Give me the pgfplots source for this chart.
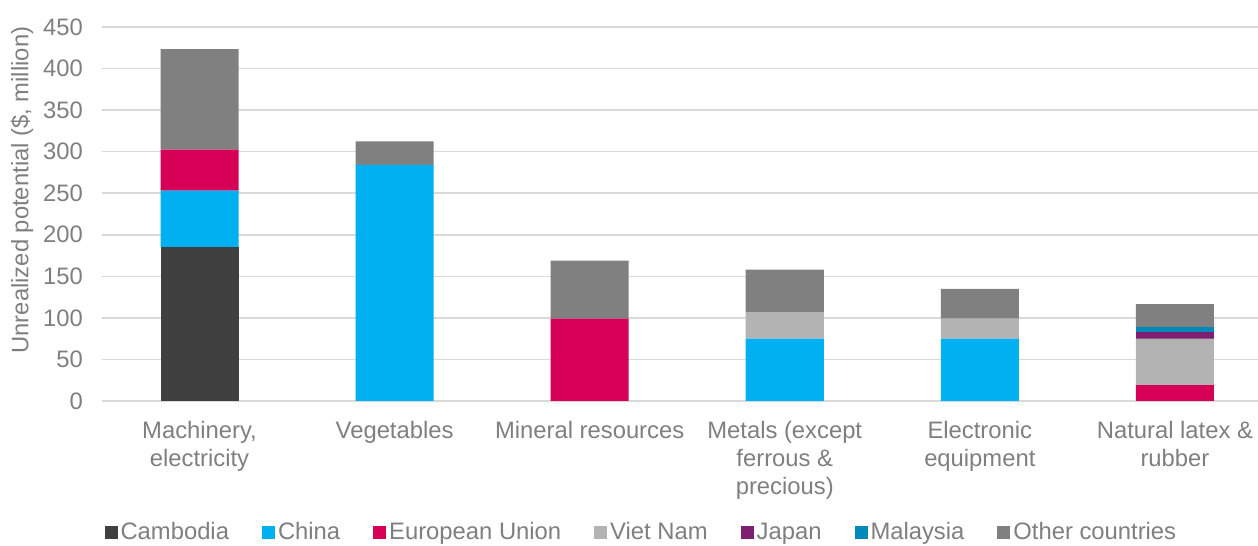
\documentclass[border=0pt]{standalone}
\usepackage{pgfplots}
\pgfplotsset{compat=1.18}
\usepackage{fontspec}
\setmainfont{Liberation Sans}
\definecolor{cCam}{HTML}{404040}
\definecolor{cChi}{HTML}{00B0F0}
\definecolor{cEU}{HTML}{D70057}
\definecolor{cVN}{HTML}{B3B3B3}
\definecolor{cJap}{HTML}{7F1F6F}
\definecolor{cMal}{HTML}{0089BA}
\definecolor{cOth}{HTML}{808080}
\definecolor{gridc}{HTML}{D9D9D9}
\definecolor{txt}{HTML}{7F7F7F}
\begin{document}
\begin{tikzpicture}
\begin{axis}[
  scale only axis,
  width=578pt, height=187pt,
  ybar stacked, bar width=0.4,
  xmin=-0.5, xmax=5.426,
  ymin=0, ymax=450,
  ytick={0,50,...,450},
  xtick={0,1,2,3,4,5},
  xticklabels={{Machinery,\\electricity},{Vegetables},{Mineral resources},{Metals (except\\ferrous \&\\precious)},{Electronic\\equipment},{Natural latex \&\\rubber}},
  /pgf/number format/assume math mode=true,
  major tick length=0pt,
  axis x line*=bottom, axis y line*=left,
  y axis line style={draw=none},
  x axis line style={draw=gridc, line width=0.75pt},
  ymajorgrids, grid style={draw=gridc, line width=0.75pt},
  tick label style={font=\fontsize{11.9}{14}\selectfont, text=txt},
  xticklabel style={align=center, yshift=-6.5pt},
  yticklabel style={xshift=-6pt},
  ylabel={Unrealized potential (\$, million)},
  every axis y label/.style={at={(rel axis cs:0,0.564)}, xshift=-40pt, rotate=90, anchor=center, font=\fontsize{11.9}{14}\selectfont, text=txt},
  legend columns=7,
  legend style={at={(0.467,-0.352)}, anchor=center, draw=none, font=\fontsize{11.9}{14}\selectfont, text=txt,
    /tikz/every even column/.append style={column sep=15pt}, nodes={inner sep=1.5pt}},
  legend image code/.code={\fill[#1] (0pt,-3.25pt) rectangle (6.5pt,3.25pt);},
]
\addplot[fill=cCam, draw=none] coordinates {(0,185) (1,0) (2,0) (3,0) (4,0) (5,0)};
\addplot[fill=cChi, draw=none] coordinates {(0,68) (1,284) (2,0) (3,75) (4,75) (5,0)};
\addplot[fill=cEU, draw=none] coordinates {(0,49.5) (1,0) (2,99) (3,0) (4,0) (5,19)};
\addplot[fill=cVN, draw=none] coordinates {(0,0) (1,0) (2,0) (3,32) (4,24) (5,56)};
\addplot[fill=cJap, draw=none] coordinates {(0,0) (1,0) (2,0) (3,0) (4,0) (5,7.5)};
\addplot[fill=cMal, draw=none] coordinates {(0,0) (1,0) (2,0) (3,0) (4,0) (5,6)};
\addplot[fill=cOth, draw=none] coordinates {(0,121) (1,28.5) (2,70) (3,51) (4,36) (5,28)};
\legend{Cambodia,China,European Union,Viet Nam,Japan,Malaysia,Other countries}
\coordinate (sw) at (rel axis cs:0,0);
\coordinate (ne) at (rel axis cs:1,1);
\end{axis}
\pgfresetboundingbox
\path ([shift={(-51pt,-72.5pt)}]sw) rectangle ([shift={(0pt,13.5pt)}]ne);
\end{tikzpicture}
\end{document}
